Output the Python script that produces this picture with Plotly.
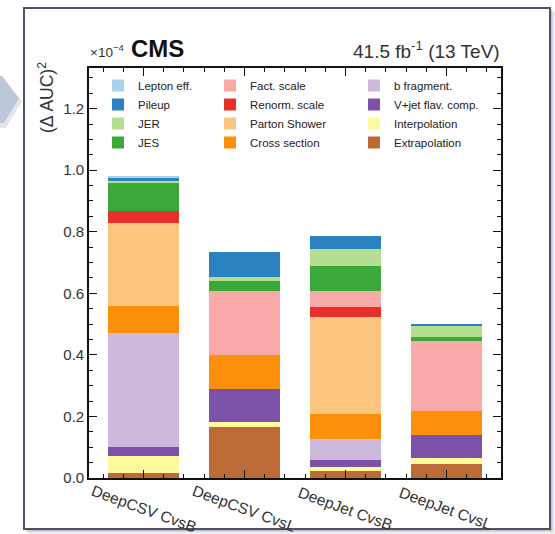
import plotly.graph_objects as go

# Tagger/discriminant categories on the x axis
categories = ["DeepCSV CvsB", "DeepCSV CvsL", "DeepJet CvsB", "DeepJet CvsL"]
x_pos = [0, 1, 2, 3]

# Squared AUC shifts (units of 1e-4) per systematic source, stacked bottom to top
extrapolation = [0.017, 0.167, 0.023, 0.045]
interpolation = [0.054, 0.016, 0.012, 0.021]
vjet_flav = [0.029, 0.105, 0.023, 0.074]
b_fragment = [0.372, 0.0, 0.068, 0.0]
cross_section = [0.086, 0.111, 0.082, 0.078]
parton_shower = [0.271, 0.0, 0.314, 0.0]
renorm_scale = [0.039, 0.0, 0.034, 0.0]
fact_scale = [0.0, 0.209, 0.051, 0.228]
jes = [0.089, 0.033, 0.081, 0.011]
jer = [0.011, 0.013, 0.055, 0.038]
pileup = [0.006, 0.080, 0.043, 0.005]
lepton_eff = [0.008, 0.0, 0.0, 0.0]

# (name, values, colour, legend column, rank inside column)
sources = [
    ("Extrapolation", extrapolation, "#bc6a36", "legend3", 4),
    ("Interpolation", interpolation, "#fff89c", "legend3", 3),
    ("V+jet flav. comp.", vjet_flav, "#7c51a9", "legend3", 2),
    ("b fragment.", b_fragment, "#cdb9dc", "legend3", 1),
    ("Cross section", cross_section, "#fe8f0a", "legend2", 4),
    ("Parton Shower", parton_shower, "#fdc680", "legend2", 3),
    ("Renorm. scale", renorm_scale, "#e6312a", "legend2", 2),
    ("Fact. scale", fact_scale, "#f9a9a8", "legend2", 1),
    ("JES", jes, "#3aa93a", "legend", 4),
    ("JER", jer, "#b5df90", "legend", 3),
    ("Pileup", pileup, "#2a82c0", "legend", 2),
    ("Lepton eff.", lepton_eff, "#a9d3e8", "legend", 1),
]

fig = go.Figure()
for name, vals, color, leg, rank in sources:
    fig.add_trace(go.Bar(
        x=x_pos, y=vals, name=name, width=0.7,
        marker=dict(color=color, line=dict(width=0)),
        legend=leg, legendrank=rank,
    ))

# Plot-area geometry in pixels (used to place decorations in paper coords)
W, H = 555, 534
L, R, T, B = 89, 501, 68, 478


def px(x):
    return (x - L) / (R - L)


def py(y):
    return (B - y) / (B - T)


font_main = "Liberation Sans, Arial, Helvetica, sans-serif"
legend_common = dict(
    yanchor="top", xanchor="left", y=py(71), traceorder="normal",
    bgcolor="rgba(0,0,0,0)", font=dict(size=11.5, color="#222", family=font_main),
    itemwidth=30, tracegroupgap=0,
)

fig.update_layout(
    width=W, height=H,
    margin=dict(l=L, r=W - R, t=T, b=H - B),
    paper_bgcolor="white", plot_bgcolor="white",
    barmode="stack", bargap=0,
    font=dict(family=font_main, color="#222"),
    legend=dict(x=px(98), **legend_common),
    legend2=dict(x=px(210), **legend_common),
    legend3=dict(x=px(354), **legend_common),
)

axis_common = dict(
    showline=True, linecolor="#111", linewidth=1.6, mirror="allticks",
    ticks="inside", tickcolor="#111", tickwidth=1.2, ticklen=8,
    showgrid=False, zeroline=False,
)
fig.update_xaxes(
    range=[-0.54, 3.54], tickvals=x_pos, showticklabels=False,
    minor=dict(dtick=0.2, tick0=0, ticks="inside", ticklen=4, tickcolor="#111", tickwidth=1),
    **axis_common,
)
fig.update_yaxes(
    range=[0, 1.332], dtick=0.2, tick0=0, tickformat=".1f",
    tickfont=dict(size=15, color="#333"),
    minor=dict(dtick=0.05, tick0=0, ticks="inside", ticklen=4, tickcolor="#111", tickwidth=1),
    **axis_common,
)

# Rotated category labels under each bar
for xv, label in zip(x_pos, categories):
    fig.add_annotation(
        x=xv, y=py(508), xref="x", yref="paper", text=label, showarrow=False,
        textangle=20, font=dict(size=15.5, color="#333"), xanchor="center", yanchor="middle",
    )

# Header texts
fig.add_annotation(x=px(88), y=py(62), xref="paper", yref="paper", text="×10<sup>−4</sup>",
                   showarrow=False, xanchor="left", yanchor="bottom",
                   font=dict(size=13.5, color="#333"))
fig.add_annotation(x=px(129), y=py(64), xref="paper", yref="paper", text="<b>CMS</b>",
                   showarrow=False, xanchor="left", yanchor="bottom",
                   font=dict(size=24, color="#111"))
fig.add_annotation(x=px(502), y=py(64), xref="paper", yref="paper",
                   text="41.5 fb<sup>-1</sup> (13 TeV)", showarrow=False,
                   xanchor="right", yanchor="bottom", font=dict(size=19, color="#333"))
fig.add_annotation(x=px(46), y=py(98), xref="paper", yref="paper", text="(Δ AUC)<sup>2</sup>",
                   showarrow=False, textangle=-90, xanchor="center", yanchor="middle",
                   font=dict(size=17.5, color="#333"))

# Slide frame with a soft shadow, and the pointer shape at the left edge
shadow = [(4, "rgba(0,0,0,0.05)"), (2.5, "rgba(0,0,0,0.08)"), (1.2, "rgba(0,0,0,0.12)")]
for off, col in shadow:
    fig.add_shape(type="rect", xref="paper", yref="paper",
                  x0=px(24 + off), x1=px(551 + off), y0=py(8 + off), y1=py(530 + off),
                  line=dict(width=0), fillcolor=col, layer="below")
fig.add_shape(type="rect", xref="paper", yref="paper",
              x0=px(24), x1=px(550), y0=py(8), y1=py(529),
              line=dict(color="#4a5466", width=2), fillcolor="white", layer="below")


def ppath(points):
    parts = []
    for i, (a, b) in enumerate(points):
        parts.append(("M" if i == 0 else "L") + f"{px(a):.5f},{py(b):.5f}")
    return " ".join(parts) + " Z"


fig.add_shape(type="path", xref="paper", yref="paper",
              path=ppath([(0, 80), (3, 80), (22, 101), (6, 128), (0, 128)]),
              line=dict(width=0), fillcolor="rgba(0,0,0,0.10)", layer="below")
fig.add_shape(type="path", xref="paper", yref="paper",
              path=ppath([(0, 76), (2, 76), (19, 98), (4, 123), (0, 123)]),
              line=dict(width=0), fillcolor="#bcc8da", layer="below")

fig.write_html("out.html")
